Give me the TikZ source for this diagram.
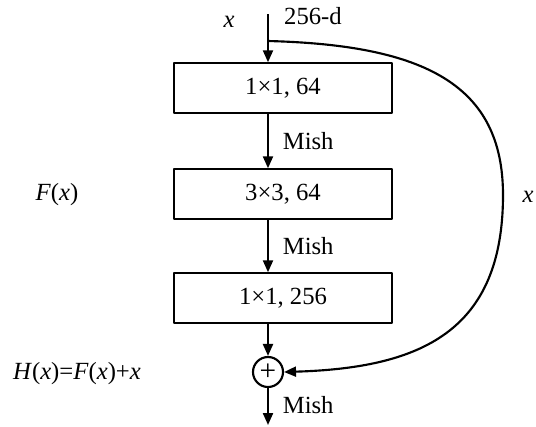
\documentclass[tikz,border=0pt]{standalone}
\usepackage{fontspec}
\setmainfont{Liberation Serif}
\usetikzlibrary{arrows.meta}
\tikzset{
  layer/.style={draw,line width=1.6pt,minimum width=163.5pt,minimum height=37pt,inner sep=0pt},
  addop/.style={draw,circle,line width=1.6pt,minimum size=22.5pt,inner sep=0pt,font=\fontsize{22}{22}\selectfont},
  flow/.style={line width=1.6pt,-{Triangle[length=9pt,width=7.5pt]}},
  act/.style={right=7pt},
}
\begin{document}
\begin{tikzpicture}[x=0.75pt,y=-0.75pt,line cap=butt,line join=round,font=\fontsize{18.5}{22}\selectfont]
  \useasboundingbox (0,0) rectangle (536,426);

  % the three layers
  \node[layer] (c1) at (283,88)  {1×1, 64};
  \node[layer] (c2) at (283,194) {3×3, 64};
  \node[layer] (c3) at (283,298) {1×1, 256};
  \node[addop] (plus) at (268,372) {+};

  \coordinate (in)  at (268,14);
  \coordinate (out) at (268,425);

  % main path
  \draw[flow] (in) -- (in |- c1.north);
  \draw[flow] (c1.south -| in) -- (c2.north -| in)
    node[midway,act] {Mish};
  \draw[flow] (c2.south -| in) -- (c3.north -| in)
    node[midway,act] {Mish};
  \draw[flow] (c3.south -| in) -- (plus.north);
  \draw[flow] (plus.south) -- (out)
    node[pos=0.45,act] {Mish};

  % shortcut x
  \draw[flow] (268,41) .. controls (425,45) and (503,85) .. (503,195)
    .. controls (503,332) and (420,368) .. (plus.east);

  % labels
  \node (xin)  at (229,22)  {\textit{x}};
  \node (dim)  at (313,16)  {256-d};
  \node (fx)   at (57,195)  {\textit{F}(\textit{x})};
  \node (xsk)  at (528,197) {\textit{x}};
  \node (hx)   at (77,374)  {\textit{H}(\textit{x})=\textit{F}(\textit{x})+\textit{x}};
\end{tikzpicture}
\end{document}
